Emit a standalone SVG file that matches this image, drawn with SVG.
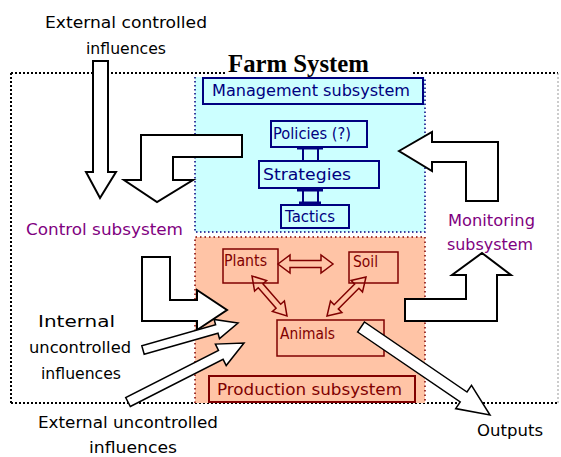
<svg xmlns="http://www.w3.org/2000/svg" width="561" height="457" viewBox="0 0 561 457">
  <style>
    .lbl { font-family: "DejaVu Sans", "Liberation Sans", sans-serif; font-size: 16px; fill: #000; }
    .ctl { fill: #800080; }
    .mgt { fill: #000080; }
    .prd { fill: #800000; }
    .frame { fill: none; stroke: #000; stroke-width: 2; stroke-dasharray: 2 2; }
    .mbox { fill: #ccffff; stroke: #000080; stroke-width: 2; }
    .pbox { fill: none; stroke: #800000; stroke-width: 1.5; }
    .big { fill: #fff; stroke: #000; stroke-width: 2; stroke-linejoin: miter; }
    .small { fill: #fff; stroke: #000; stroke-width: 1.5; }
    .inner { fill: none; stroke: #800000; stroke-width: 1.5; }
    .plug { fill: #ccffff; stroke: #000080; stroke-width: 2; }
  </style>

  <!-- outer system boundary -->
  <g id="farm-system">
    <path class="frame" d="M11,73 H225 M413,73 H558 M11,73 V403 M11,403 H558"/>
    <path d="M558,73 V403" fill="none" stroke="#999" stroke-width="1" stroke-dasharray="2 2"/>
    <text x="228" y="72" font-family="Liberation Serif, serif" font-weight="bold" font-size="25" textLength="141" lengthAdjust="spacingAndGlyphs">Farm System</text>
  </g>

  <!-- management subsystem -->
  <g id="management">
    <rect x="195" y="77" width="230" height="155" fill="#ccffff"/>
    <path d="M195,77 V232 H425 V77" fill="none" stroke="#000080" stroke-width="1.5" stroke-dasharray="1.5 2.5"/>
    <rect class="mbox" x="203" y="78" width="220" height="26"/>
    <text class="lbl mgt" x="212" y="96" font-size="16" textLength="198" lengthAdjust="spacingAndGlyphs">Management subsystem</text>
  </g>
  <g id="policies">
    <rect class="mbox" x="271" y="121" width="96" height="26"/>
    <text class="lbl mgt" x="273" y="139" font-size="14" textLength="78" lengthAdjust="spacingAndGlyphs">Policies (?)</text>
  </g>
  <g id="strategies">
    <rect class="mbox" x="259" y="161" width="120" height="27"/>
    <text class="lbl mgt" x="263" y="180" font-size="17" textLength="88" lengthAdjust="spacingAndGlyphs">Strategies</text>
  </g>
  <g id="tactics">
    <rect class="mbox" x="281" y="205" width="68" height="23"/>
    <text class="lbl mgt" x="285" y="222" font-size="14" textLength="50" lengthAdjust="spacingAndGlyphs">Tactics</text>
  </g>

  <!-- production subsystem -->
  <g id="production">
    <rect x="195" y="237" width="230" height="166" fill="#ffc4a6"/>
    <path d="M195,403 V237 H425 V403" fill="none" stroke="#800000" stroke-width="1.5" stroke-dasharray="1.5 3"/>
    <rect x="209" y="376" width="206" height="26" fill="#ffc4a6" stroke="#800000" stroke-width="2"/>
    <text class="lbl prd" x="217" y="395" font-size="18" textLength="185" lengthAdjust="spacingAndGlyphs">Production subsystem</text>
  </g>
  <g id="plants">
    <rect class="pbox" x="223" y="249" width="55" height="34"/>
    <text class="lbl prd" x="224" y="266" font-size="13" textLength="43" lengthAdjust="spacingAndGlyphs">Plants</text>
  </g>
  <g id="soil">
    <rect class="pbox" x="349" y="252" width="49" height="31"/>
    <text class="lbl prd" x="353" y="267" font-size="13" textLength="25" lengthAdjust="spacingAndGlyphs">Soil</text>
  </g>
  <g id="animals">
    <rect class="pbox" x="277" y="320" width="107" height="36"/>
    <text class="lbl prd" x="280" y="339" font-size="13" textLength="55" lengthAdjust="spacingAndGlyphs">Animals</text>
  </g>

  <!-- free-standing labels -->
  <g id="external-controlled">
    <text class="lbl" x="45" y="28" textLength="162" lengthAdjust="spacingAndGlyphs">External controlled</text>
    <text class="lbl" x="86" y="54" textLength="80" lengthAdjust="spacingAndGlyphs">influences</text>
  </g>
  <g id="control">
    <text class="lbl ctl" x="26" y="235" textLength="157" lengthAdjust="spacingAndGlyphs">Control subsystem</text>
  </g>
  <g id="monitoring">
    <text class="lbl ctl" x="448" y="226" textLength="87" lengthAdjust="spacingAndGlyphs">Monitoring</text>
    <text class="lbl ctl" x="447" y="250" textLength="86" lengthAdjust="spacingAndGlyphs">subsystem</text>
  </g>
  <g id="internal-uncontrolled">
    <text class="lbl" x="38" y="327" textLength="77" lengthAdjust="spacingAndGlyphs">Internal</text>
    <text class="lbl" x="29" y="353" textLength="102" lengthAdjust="spacingAndGlyphs">uncontrolled</text>
    <text class="lbl" x="41" y="379" textLength="80" lengthAdjust="spacingAndGlyphs">influences</text>
  </g>
  <g id="external-uncontrolled">
    <text class="lbl" x="38" y="428" textLength="180" lengthAdjust="spacingAndGlyphs">External uncontrolled</text>
    <text class="lbl" x="89" y="453" textLength="88" lengthAdjust="spacingAndGlyphs">influences</text>
  </g>
  <g id="outputs">
    <text class="lbl" x="477" y="436" textLength="66" lengthAdjust="spacingAndGlyphs">Outputs</text>
  </g>

  <!-- connectors -->
  <g id="connectors">
    <!-- hierarchy plugs -->
    <rect class="plug" x="303" y="148" width="15" height="13"/>
    <path d="M297,148 H323" stroke="#000080" stroke-width="3"/>
    <rect class="plug" x="303" y="189" width="15" height="15"/>
    <path d="M297,190 H323 M299,203 H321" stroke="#000080" stroke-width="3"/>

    <!-- flows between production components -->
    <polygon class="inner" points="278,264 290,255 290,260.5 321,260.5 321,255 333,264 321,273 321,267.5 290,267.5 290,273"/>
    <polygon class="inner" points="252,276 254.6,291.1 258.3,287.8 276.1,308.2 272.4,311.5 287,316 284.4,300.9 280.7,304.2 262.9,283.8 266.6,280.5"/>
    <polygon class="inner" points="366,277 351.1,280.5 354.7,284.1 334.1,304.7 330.5,301.1 327,316 341.9,312.5 338.3,308.9 358.9,288.3 362.5,291.9"/>

    <!-- control and information flows -->
    <polygon class="big" points="93,61 108,61 108,172 116,172 100,198 86,172 93,172"/>
    <polygon class="big" points="242,135 242,157 173,157 173,180 193,180 157,202 124,180 141,180 141,135"/>
    <polygon class="big" points="399,151 432,132 432,142 498,142 498,201 466,201 466,162 432,162 432,171"/>
    <polygon class="big" points="405,299 466,299 466,275 452,275 482,253 511,275 497,275 497,321 405,321"/>
    <polygon class="big" points="142,257 170,257 170,300 197,300 197,290 227,310 197,330 197,321 142,321"/>

    <!-- influences and outputs -->
    <polygon class="small" points="144.2,354.3 218,333.3 219.5,338.6 238,323 214.1,319.4 215.6,324.7 141.8,345.7"/>
    <polygon class="small" points="130.3,406.5 223.1,359.3 226.2,365.5 244,343 215.4,344.1 218.5,350.3 125.7,397.5"/>
    <polygon class="small" points="357.6,332 460.2,402 455.7,408.6 490,415 471.5,385.4 467,392 364.4,322"/>
  </g>
</svg>
